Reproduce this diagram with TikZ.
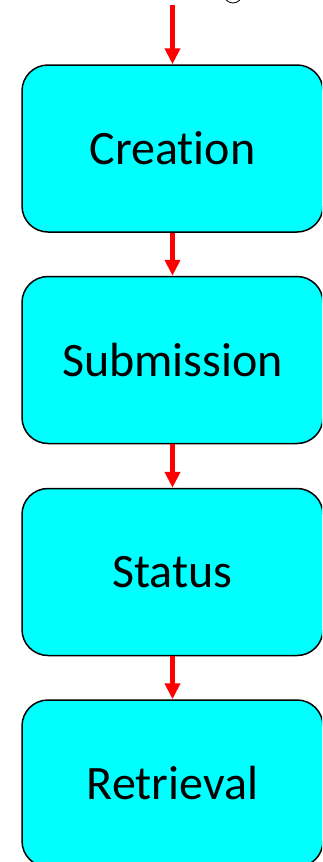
\documentclass[tikz,border=0pt]{standalone}
\usepackage{fontspec}
\setmainfont{Carlito}[RawFeature=-liga]
\usetikzlibrary{arrows.meta}
\definecolor{stagecyan}{RGB}{0,255,255}

\begin{document}
\begin{tikzpicture}[x=1pt, y=-1pt,
stage/.style = {draw=black, line width=1.5pt, fill=stagecyan,
                rounded corners=26pt,
                minimum width=301pt, minimum height=167pt,
                inner sep=0pt,
                font=\fontsize{48}{51}\selectfont},
flow/.style  = {draw=red, line width=4.3pt,
                -{Triangle[length=16pt, width=15pt]}}
                   ]
\useasboundingbox (0,0) rectangle (322,862);
\clip (0,0) rectangle (322,862);
\fill[white] (0,0) rectangle (322,862);
\draw[line width=0.8pt] (233,-6) circle (9);

\node[stage] (creation)   at (172.5,148.5) {Creation};
\node[stage] (submission) at (172.5,360)   {Submission};
\node[stage] (status)     at (172.5,572)   {Status};
\node[stage] (retrieval)  at (172.5,783.5) {Retrieval};

\coordinate (start) at (172.5,5);
\draw[flow] (start) -- (creation.north);
\draw[flow] (creation) -- (submission);
\draw[flow] (submission) -- (status);
\draw[flow] (status) -- (retrieval);

\end{tikzpicture}
\end{document}
